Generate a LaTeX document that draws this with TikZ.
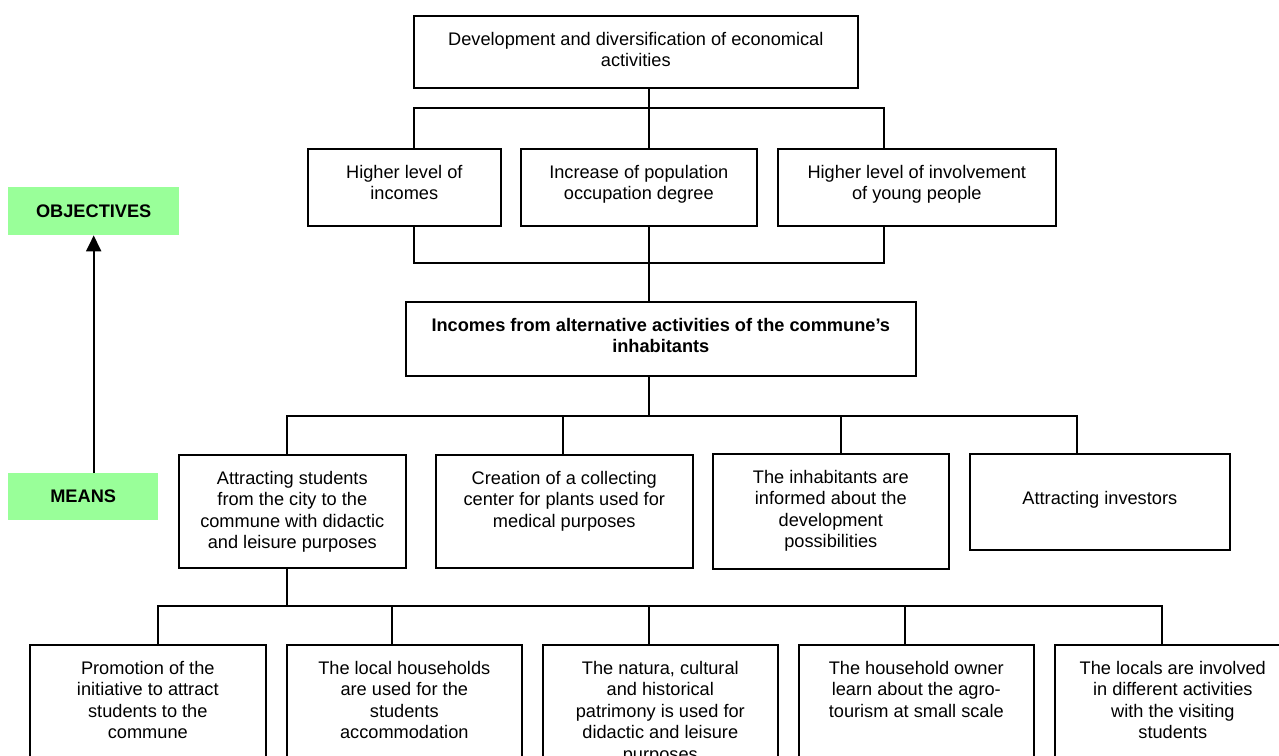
\documentclass[tikz,border=0pt]{standalone}
\usepackage{fontspec}
\setmainfont{Liberation Sans}
\usetikzlibrary{arrows.meta, positioning}
\definecolor{lgreen}{HTML}{99FF99}

\tikzset{
  cell/.style={draw, line width=1.6pt, inner sep=0pt, anchor=north west, font=\fontsize{18.2}{21.5}\selectfont},
  tag/.style={fill=lgreen, inner sep=0pt, anchor=north west, font=\bfseries\fontsize{18.2}{21.5}\selectfont},
  link/.style={line width=1.6pt},
}
% width, height, text (top aligned)
\newcommand{\cellbox}[3]{\parbox[t][#2pt][t]{#1pt}{\centering\vspace*{14.5pt}\strut#3}}

\begin{document}
\begin{tikzpicture}[x=1pt, y=-1pt]
\clip (0,0) rectangle (1279,755);

% objectives / means
\node[tag, minimum width=171pt, minimum height=48pt] (obj) at (8,187) {OBJECTIVES};
\node[tag, minimum width=150pt, minimum height=47pt] (means) at (8,473) {MEANS};
\draw[line width=2pt, -{Triangle[width=15pt,length=16pt]}] (means.north -| obj.south) -- (obj.south);

% top levels
\node[cell] (dev) at (413,15) {\cellbox{444}{72}{Development and diversification of economical\\activities}};
\node[cell] (inc) at (307,148) {\cellbox{193}{77}{Higher level of\\incomes}};
\node[cell] (occ) at (520,148) {\cellbox{236}{77}{Increase of population\\occupation degree}};
\node[cell] (young) at (777,148) {\cellbox{278}{77}{Higher level of involvement\\of young people}};
\node[cell] (alt) at (405,301) {\cellbox{510}{74}{\bfseries Incomes from alternative activities of the commune’s\\inhabitants}};

% means
\node[cell] (stud) at (178,454) {\cellbox{227}{113}{Attracting students\\from the city to the\\commune with didactic\\and leisure purposes}};
\node[cell] (plant) at (435,454) {\cellbox{257}{113}{Creation of a collecting\\center for plants used for\\medical purposes}};
\node[cell] (info) at (712,453) {\cellbox{236}{115}{The inhabitants are\\informed about the\\development\\possibilities}};
\node[cell] (invest) at (969,453) {\cellbox{260}{96}{\\Attracting investors}};

\node[cell] (promo) at (29,644) {\cellbox{236}{150}{Promotion of the\\initiative to attract\\students to the\\commune}};
\node[cell] (house) at (286,644) {\cellbox{235}{150}{The local households\\are used for the\\students\\accommodation}};
\node[cell] (patri) at (542,644) {\cellbox{235}{150}{The natura, cultural\\and historical\\patrimony is used for\\didactic and leisure\\purposes}};
\node[cell] (owner) at (798,644) {\cellbox{235}{150}{The household owner\\learn about the agro-\\tourism at small scale}};
\node[cell] (local) at (1054,644) {\cellbox{236}{150}{The locals are involved\\in different activities\\with the visiting\\students}};

% connectors
\coordinate (j1) at (649,108);
\coordinate (j2) at (649,263);
\coordinate (j3) at (649,416);
\coordinate (j4) at (649,606);

\draw[link] (dev.south -| j1) -- (j1) -- (occ.north -| j1);
\draw[link] (inc.north -| 414,0) |- (j1) -| (young.north -| 884,0);

\draw[link] (occ.south -| j2) -- (j2) -- (alt.north -| j2);
\draw[link] (inc.south -| 414,0) |- (j2) -| (young.south -| 884,0);

\draw[link] (alt.south -| j3) -- (j3);
\draw[link] (stud.north -| 287,0) |- (j3) -| (invest.north -| 1077,0);
\draw[link] (plant.north -| 563,0) |- (j3);
\draw[link] (info.north -| 841,0) |- (j3);

\draw[link] (stud.south -| 287,0) |- (j4);
\draw[link] (promo.north -| 158,0) |- (j4) -| (local.north -| 1162,0);
\draw[link] (house.north -| 392,0) |- (j4);
\draw[link] (patri.north -| j4) -- (j4);
\draw[link] (owner.north -| 905,0) |- (j4);

\end{tikzpicture}
\end{document}
